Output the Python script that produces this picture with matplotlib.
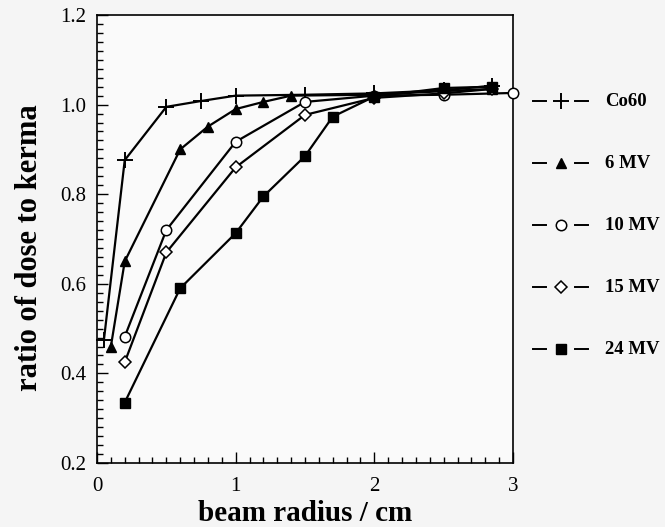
import matplotlib.pyplot as plt
from matplotlib.lines import Line2D
from matplotlib.ticker import MultipleLocator

plt.rcParams['font.family'] = ['Liberation Serif', 'DejaVu Serif']

# ratio of dose to kerma against beam radius (cm)
co60_r = [0.05, 0.2, 0.5, 0.75, 1.0, 1.5, 2.0, 2.5, 2.85]
co60_v = [0.475, 0.876, 0.995, 1.008, 1.02, 1.022, 1.025, 1.032, 1.042]

mv6_r = [0.1, 0.2, 0.6, 0.8, 1.0, 1.2, 1.4, 2.0, 2.5, 2.85]
mv6_v = [0.46, 0.65, 0.90, 0.951, 0.99, 1.006, 1.02, 1.022, 1.03, 1.035]

mv10_r = [0.2, 0.5, 1.0, 1.5, 2.0, 2.5, 3.0]
mv10_v = [0.482, 0.72, 0.917, 1.006, 1.02, 1.022, 1.026]

mv15_r = [0.2, 0.5, 1.0, 1.5, 2.0, 2.5, 2.85]
mv15_v = [0.425, 0.67, 0.86, 0.977, 1.015, 1.025, 1.035]

mv24_r = [0.2, 0.6, 1.0, 1.2, 1.5, 1.7, 2.0, 2.5, 2.85]
mv24_v = [0.335, 0.59, 0.713, 0.795, 0.885, 0.973, 1.018, 1.037, 1.04]

labels = ['Co60', '6 MV', '10 MV', '15 MV', '24 MV']
series = [(co60_r, co60_v), (mv6_r, mv6_v), (mv10_r, mv10_v),
          (mv15_r, mv15_v), (mv24_r, mv24_v)]
styles = [
    dict(marker='+', ms=12, mew=1.4, mfc='k', mec='k'),
    dict(marker='^', ms=7, mew=1.0, mfc='k', mec='k'),
    dict(marker='o', ms=7.5, mew=1.1, mfc='white', mec='k'),
    dict(marker='D', ms=6, mew=1.1, mfc='white', mec='k'),
    dict(marker='s', ms=7, mew=1.0, mfc='k', mec='k'),
]

W, H = 665, 527
fig = plt.figure(figsize=(W / 100, H / 100), dpi=100, facecolor='#f5f5f5')
ax = fig.add_axes([97 / W, 1 - 463 / H, (513 - 97) / W, (463 - 15) / H])
ax.set_facecolor('#fafafa')

for (r, v), st in zip(series, styles):
    ax.plot(r, v, color='k', lw=1.6, clip_on=False, zorder=3, **st)

ax.set_xlim(0, 3)
ax.set_ylim(0.2, 1.2)
ax.xaxis.set_major_locator(MultipleLocator(1))
ax.xaxis.set_minor_locator(MultipleLocator(0.1))
ax.yaxis.set_major_locator(MultipleLocator(0.2))
ax.yaxis.set_minor_locator(MultipleLocator(0.02))
ax.yaxis.set_major_formatter(plt.FormatStrFormatter('%.1f'))
ax.tick_params(which='both', direction='in', top=False, right=False,
               labelsize=15, width=1.0)
ax.tick_params(which='major', length=8)
ax.tick_params(which='minor', length=4.5)
ax.tick_params(axis='x', pad=10)
ax.tick_params(axis='y', pad=8)
for sp in ax.spines.values():
    sp.set_linewidth(1.2)

ax.set_xlabel('beam radius / cm', fontsize=21, fontweight='bold', labelpad=3)
ax.set_ylabel('ratio of dose to kerma', fontsize=22, fontweight='bold')
ax.yaxis.set_label_coords(-0.128, 0.48)

# legend drawn beside the axes: dash, marker, dash, label
rows_y = [101, 163, 225, 287, 349]
for lab, st, py in zip(labels, styles, rows_y):
    fy = 1 - py / H
    for x0, x1 in [(533, 546), (575, 588)]:
        fig.add_artist(Line2D([x0 / W, x1 / W], [fy, fy], color='k', lw=1.4))
    fig.add_artist(Line2D([561 / W], [fy], linestyle='none', **st))
    fig.text(605 / W, fy, lab, fontsize=13.5, fontweight='bold', va='center')

fig.savefig('out.png', dpi=100, facecolor=fig.get_facecolor())
